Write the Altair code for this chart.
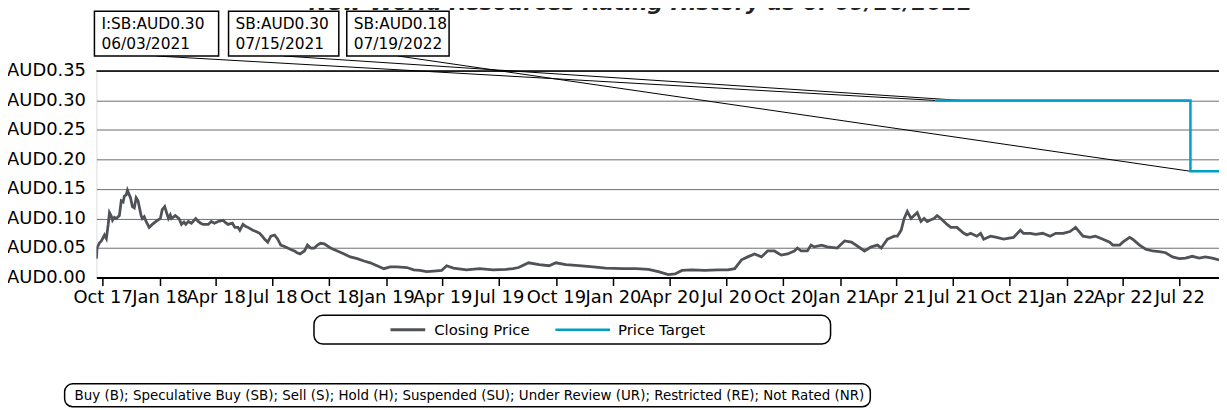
import altair as alt
import pandas as pd

# ---------------- data ----------------
price_dates = [
    "2017-09-21", "2017-09-22", "2017-09-26", "2017-09-29", "2017-10-02", "2017-10-04", "2017-10-07",
    "2017-10-10", "2017-10-12", "2017-10-15", "2017-10-17", "2017-10-20", "2017-10-23", "2017-10-28",
    "2017-10-31", "2017-11-03", "2017-11-05", "2017-11-08", "2017-11-10", "2017-11-13", "2017-11-15",
    "2017-11-18", "2017-11-21", "2017-11-24", "2017-11-27", "2017-11-29", "2017-12-02", "2017-12-04",
    "2017-12-07", "2017-12-10", "2017-12-15", "2017-12-20", "2017-12-26", "2018-01-02", "2018-01-05",
    "2018-01-09", "2018-01-12", "2018-01-15", "2018-01-18", "2018-01-20", "2018-01-26", "2018-02-01",
    "2018-02-05", "2018-02-09", "2018-02-12", "2018-02-16", "2018-02-21", "2018-02-28", "2018-03-04",
    "2018-03-08", "2018-03-12", "2018-03-20", "2018-03-25", "2018-03-30", "2018-04-05", "2018-04-13",
    "2018-04-17", "2018-04-21", "2018-04-28", "2018-05-02", "2018-05-07", "2018-05-10", "2018-05-15",
    "2018-05-19", "2018-05-23", "2018-05-31", "2018-06-05", "2018-06-11", "2018-06-15", "2018-06-19",
    "2018-06-24", "2018-06-29", "2018-07-05", "2018-07-10", "2018-07-15", "2018-07-20", "2018-07-26",
    "2018-08-01", "2018-08-06", "2018-08-10", "2018-08-15", "2018-08-22", "2018-08-27", "2018-09-01",
    "2018-09-07", "2018-09-12", "2018-09-17", "2018-09-23", "2018-10-03", "2018-10-14", "2018-10-25",
    "2018-11-04", "2018-11-15", "2018-11-26", "2018-12-06", "2018-12-17", "2018-12-28", "2019-01-07",
    "2019-01-18", "2019-02-03", "2019-02-14", "2019-02-24", "2019-03-07", "2019-03-18", "2019-03-31",
    "2019-04-08", "2019-04-19", "2019-05-10", "2019-05-31", "2019-06-22", "2019-07-13", "2019-07-24",
    "2019-08-02", "2019-08-18", "2019-09-04", "2019-09-20", "2019-10-01", "2019-10-17", "2019-11-07",
    "2019-11-30", "2019-12-20", "2020-01-17", "2020-02-07", "2020-02-27", "2020-03-14", "2020-03-30",
    "2020-04-10", "2020-04-21", "2020-05-07", "2020-05-28", "2020-06-18", "2020-07-04", "2020-07-15",
    "2020-07-26", "2020-08-05", "2020-08-16", "2020-08-27", "2020-09-06", "2020-09-17", "2020-09-28",
    "2020-10-08", "2020-10-19", "2020-10-24", "2020-10-30", "2020-11-09", "2020-11-15", "2020-11-20",
    "2020-12-02", "2020-12-11", "2020-12-27", "2021-01-08", "2021-01-19", "2021-01-29", "2021-02-09",
    "2021-02-20", "2021-03-02", "2021-03-08", "2021-03-18", "2021-03-29", "2021-04-03", "2021-04-09",
    "2021-04-14", "2021-04-19", "2021-04-25", "2021-04-30", "2021-05-05", "2021-05-11", "2021-05-16",
    "2021-05-21", "2021-05-27", "2021-06-01", "2021-06-06", "2021-06-12", "2021-06-22", "2021-06-28",
    "2021-07-08", "2021-07-19", "2021-07-24", "2021-07-30", "2021-08-09", "2021-08-15", "2021-08-20",
    "2021-08-31", "2021-09-10", "2021-09-21", "2021-10-07", "2021-10-18", "2021-10-23", "2021-11-03",
    "2021-11-12", "2021-11-23", "2021-12-05", "2021-12-14", "2021-12-26", "2022-01-06", "2022-01-15",
    "2022-01-27", "2022-02-07", "2022-02-16", "2022-02-28", "2022-03-11", "2022-03-16", "2022-03-27",
    "2022-04-01", "2022-04-12", "2022-04-17", "2022-04-28", "2022-05-08", "2022-05-19", "2022-05-30",
    "2022-06-09", "2022-06-20", "2022-07-01", "2022-07-11", "2022-07-22", "2022-08-02", "2022-08-12",
    "2022-08-23", "2022-09-03", "2022-09-15",
]
price_values = [
    0.032, 0.050, 0.059, 0.062, 0.068, 0.072, 0.066,
    0.090, 0.110, 0.104, 0.097, 0.102, 0.100, 0.105,
    0.130, 0.128, 0.138, 0.140, 0.148, 0.140, 0.135,
    0.120, 0.118, 0.135, 0.130, 0.120, 0.105, 0.100,
    0.103, 0.095, 0.085, 0.090, 0.095, 0.100, 0.115,
    0.120, 0.110, 0.100, 0.106, 0.100, 0.105, 0.100,
    0.090, 0.094, 0.090, 0.095, 0.092, 0.100, 0.095,
    0.092, 0.090, 0.090, 0.095, 0.092, 0.095, 0.097,
    0.093, 0.090, 0.092, 0.085, 0.085, 0.080, 0.090,
    0.087, 0.085, 0.080, 0.078, 0.075, 0.070, 0.065,
    0.060, 0.070, 0.072, 0.065, 0.055, 0.053, 0.050,
    0.047, 0.045, 0.042, 0.040, 0.045, 0.055, 0.050,
    0.050, 0.055, 0.058, 0.057, 0.050, 0.045, 0.040,
    0.035, 0.032, 0.028, 0.025, 0.020, 0.015, 0.018,
    0.018, 0.017, 0.013, 0.012, 0.010, 0.011, 0.012,
    0.020, 0.016, 0.013, 0.015, 0.013, 0.014, 0.015,
    0.017, 0.025, 0.022, 0.020, 0.025, 0.022, 0.020,
    0.018, 0.016, 0.015, 0.015, 0.014, 0.010, 0.005,
    0.006, 0.012, 0.013, 0.012, 0.013, 0.013, 0.015,
    0.030, 0.035, 0.040, 0.035, 0.045, 0.045, 0.038,
    0.040, 0.045, 0.050, 0.045, 0.045, 0.055, 0.052,
    0.055, 0.052, 0.050, 0.062, 0.060, 0.053, 0.045,
    0.052, 0.055, 0.050, 0.065, 0.070, 0.070, 0.080,
    0.100, 0.112, 0.100, 0.105, 0.110, 0.095, 0.100,
    0.095, 0.098, 0.100, 0.105, 0.100, 0.090, 0.085,
    0.085, 0.075, 0.072, 0.075, 0.070, 0.075, 0.065,
    0.070, 0.068, 0.065, 0.068, 0.080, 0.075, 0.075,
    0.073, 0.075, 0.070, 0.075, 0.075, 0.078, 0.085,
    0.070, 0.068, 0.070, 0.065, 0.060, 0.055, 0.055,
    0.060, 0.068, 0.065, 0.055, 0.048, 0.045, 0.044,
    0.042, 0.035, 0.032, 0.033, 0.036, 0.033, 0.035,
    0.033, 0.030, 0.032,
]

target_dates = ["2021-06-03", "2021-07-15", "2022-07-19", "2022-09-16"]
target_values = [0.30, 0.30, 0.18, 0.18]

ann_ratings = ["I:SB", "SB", "SB"]
ann_dates = ["2021-06-03", "2021-07-15", "2022-07-19"]
ann_date_labels = ["06/03/2021", "07/15/2021", "07/19/2022"]
ann_targets = [0.30, 0.30, 0.18]

y_ticks = [0.0, 0.05, 0.10, 0.15, 0.20, 0.25, 0.30, 0.35]
x_tick_quarters = [(2017, 10)] + [(y, m) for y in (2018, 2019, 2020, 2021) for m in (1, 4, 7, 10)] + [(2022, 1), (2022, 4), (2022, 7)]

legend_labels = ["Closing Price", "Price Target"]
footer_text = ("Buy (B); Speculative Buy (SB); Sell (S); Hold (H); Suspended (SU); "
               "Under Review (UR); Restricted (RE); Not Rated (NR)")
title_text = "New World Resources Rating History as of 09/16/2022"

# ---------------- layout / style ----------------
FONT = "DejaVu Sans"
PLOT_W, PLOT_H = 1130, 208
PAD_L, PAD_T, PAD_B = 89, 62, 132
PRICE_COLOR = "#4f5257"
TARGET_COLOR = "#00a0c6"
box_x = [(-2, 123), (133, 244), (252, 355)]  # annotation boxes (pixels, plot coords)
BOX_TOP, BOX_BOT = -60, -15

price_df = pd.DataFrame({"date": price_dates, "value": price_values})
target_df = pd.DataFrame({"date": target_dates, "value": target_values})
ann_df = pd.DataFrame({"idx": [0, 1, 2], "rating": ann_ratings, "date": ann_dates,
                       "dlabel": ann_date_labels, "target": ann_targets})

x_scale = alt.Scale(type="utc", domain=[alt.DateTime(year=2017, month=9, date=21, utc=True),
                                       alt.DateTime(year=2022, month=9, date=3, utc=True)])
y_scale = alt.Scale(domain=[0, 0.35], nice=False, zero=True)

x_axis = alt.Axis(
    values=[alt.DateTime(year=y, month=m, date=1, utc=True) for y, m in x_tick_quarters],
    labelExpr="utcFormat(datum.value, '%b %y')", title=None, grid=False,
    tickSize=8, tickColor="black", tickWidth=1.5, domainColor="black", domainWidth=2,
    labelFont=FONT, labelFontSize=18, labelColor="black", labelPadding=3,
    labelOverlap=False, labelFlush=False, labelBound=False,
)
y_axis = alt.Axis(
    values=y_ticks, labelExpr="'AUD' + format(datum.value, '.2f')", title=None,
    domain=False, ticks=False, grid=True, gridColor="#6e6e6e", gridWidth=1,
    labelFont=FONT, labelFontSize=18, labelColor="black", labelPadding=11,
    labelOverlap=False, labelBound=False,
)


def X(field):
    return alt.X(field, type="temporal", scale=x_scale, axis=x_axis)


def Y(field):
    return alt.Y(field, type="quantitative", scale=y_scale, axis=y_axis)


price = alt.Chart(price_df).mark_line(color=PRICE_COLOR, strokeWidth=2.8, clip=True).encode(
    x=X("date"), y=Y("value"))

top_rule = alt.Chart(price_df).mark_rule(color="black", strokeWidth=1.5).encode(
    x=X("date"), x2=alt.value(PLOT_W), y=alt.YDatum(0.35, scale=y_scale, axis=y_axis))

target = alt.Chart(target_df).mark_line(color=TARGET_COLOR, strokeWidth=2.5,
                                        interpolate="step-after", clip=True).encode(
    x=X("date"), y=Y("value"))

layers = [price]
leaders, boxes, texts = [], [], []
for i, (bx0, bx1) in enumerate(box_x):
    base = alt.Chart(ann_df).transform_filter(f"datum.idx == {i}")
    leaders.append(base.mark_rule(color="black", strokeWidth=1).encode(
        x=X("date"), y=Y("target"),
        x2=alt.value((bx0 + bx1) / 2), y2=alt.value(BOX_BOT)))
    boxes.append(base.mark_rect(fill="white", stroke="black", strokeWidth=1.5).encode(
        x=alt.value(bx0), x2=alt.value(bx1), y=alt.value(BOX_TOP), y2=alt.value(BOX_BOT)))
    texts.append(base.transform_calculate(
        label="datum.rating + ':AUD' + format(datum.target, '.2f') + '\\n' + datum.dlabel"
    ).mark_text(align="left", baseline="alphabetic", lineBreak="\n", lineHeight=20,
                font=FONT, fontSize=15.5, color="black").encode(
        x=alt.value(bx0 + 7), y=alt.value(-42), text="label:N"))

# black line on top of the plot at 0.35
top_line = alt.Chart(ann_df).transform_filter("datum.idx == 0").mark_rule(
    color="black", strokeWidth=1.5).encode(
    x=alt.value(0), x2=alt.value(PLOT_W), y=alt.YDatum(0.35, scale=y_scale, axis=y_axis))

layers += [top_line] + leaders + [target] + boxes + texts

title = alt.Chart(ann_df).transform_filter("datum.idx == 0").mark_text(
    align="center", baseline="alphabetic", font=FONT, fontSize=22, fontWeight="bold",
    fontStyle="italic", color="#222").encode(
    x=alt.value(548), y=alt.value(-61), text=alt.value(title_text))

# legend
leg_base = alt.Chart(ann_df).transform_filter("datum.idx == 0")
legend = [
    leg_base.mark_rect(fill="white", stroke="black", strokeWidth=1.5, cornerRadius=9).encode(
        x=alt.value(219), x2=alt.value(739), y=alt.value(246), y2=alt.value(275)),
    leg_base.mark_rule(color=PRICE_COLOR, strokeWidth=3).encode(
        x=alt.value(296), x2=alt.value(331), y=alt.value(260.5)),
    leg_base.mark_text(align="left", baseline="middle", font=FONT, fontSize=15, color="black").encode(
        x=alt.value(340), y=alt.value(260.5), text=alt.value(legend_labels[0])),
    leg_base.mark_rule(color=TARGET_COLOR, strokeWidth=2.5).encode(
        x=alt.value(462), x2=alt.value(517), y=alt.value(260.5)),
    leg_base.mark_text(align="left", baseline="middle", font=FONT, fontSize=15, color="black").encode(
        x=alt.value(525), y=alt.value(260.5), text=alt.value(legend_labels[1])),
]
footer = [
    leg_base.mark_rect(fill="white", stroke="black", strokeWidth=1.5, cornerRadius=8).encode(
        x=alt.value(-32), x2=alt.value(779), y=alt.value(315), y2=alt.value(338)),
    leg_base.mark_text(align="left", baseline="middle", font=FONT, fontSize=13.5, color="black").encode(
        x=alt.value(-22), y=alt.value(327), text=alt.value(footer_text)),
]

chart = alt.layer(*(layers + [title] + legend + footer)).properties(
    width=PLOT_W, height=PLOT_H,
    autosize=alt.AutoSizeParams(type="none"),
    padding={"left": PAD_L, "top": PAD_T, "right": 0, "bottom": PAD_B},
).configure_view(stroke=None).configure(background="white")

chart.save("out.html", embed_options={"renderer": "svg", "actions": False})
